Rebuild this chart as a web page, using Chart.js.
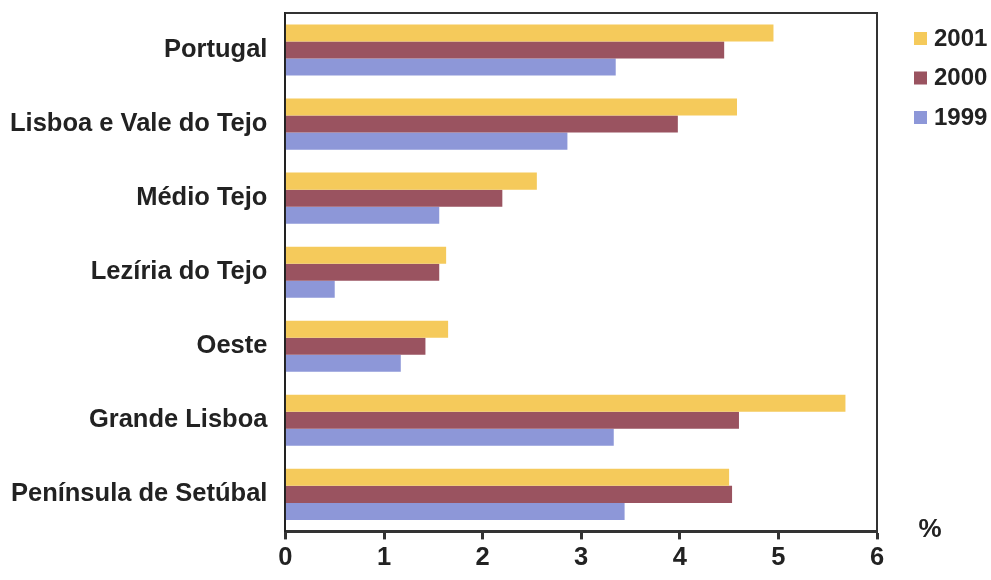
<!DOCTYPE html>
<html>
<head>
<meta charset="utf-8">
<script src="https://cdn.jsdelivr.net/npm/chart.js@4"></script>
<style>
  html, body { margin: 0; padding: 0; background: #fff; }
  #wrap { width: 991px; height: 580px; }
</style>
</head>
<body>
<div id="wrap"><canvas id="chart" width="991" height="580"></canvas></div>
<script>
// data (%)
const regions = ['Portugal', 'Lisboa e Vale do Tejo', 'Médio Tejo', 'Lezíria do Tejo', 'Oeste', 'Grande Lisboa', 'Península de Setúbal']
const v2001 = [4.95, 4.58, 2.55, 1.63, 1.65, 5.68, 4.5]
const v2000 = [4.45, 3.98, 2.2, 1.56, 1.42, 4.6, 4.53]
const v1999 = [3.35, 2.86, 1.56, 0.5, 1.17, 3.33, 3.44]
const years = ['2001', '2000', '1999']
const xTicks = [0, 1, 2, 3, 4, 5, 6]

const colors = ['#f5ca5b', '#9a5360', '#8d97d8']
const fontBold = { family: 'Liberation Sans, Arial, sans-serif', size: 25.5, weight: 'bold' }

// frame on top / right of the plot, plus legend and the "%" unit
const decorations = {
    id: 'decorations',
    afterDraw(chart) {
        const { ctx, chartArea: a } = chart
        ctx.save()
        ctx.strokeStyle = '#333'
        ctx.lineWidth = 2
        ctx.beginPath()
        ctx.moveTo(a.left, a.top)
        ctx.lineTo(a.right, a.top)
        ctx.lineTo(a.right, a.bottom)
        ctx.stroke()

        ctx.font = 'bold 24px Liberation Sans, Arial, sans-serif'
        ctx.textBaseline = 'middle'
        ctx.textAlign = 'left'
        chart.data.datasets.forEach((ds, i) => {
            const y = 38 + i * 39.5
            ctx.fillStyle = ds.backgroundColor
            ctx.fillRect(914, y - 6, 13, 13)
            ctx.fillStyle = '#222'
            ctx.fillText(ds.label, 934, y + 1)
        })

        ctx.font = 'bold 26px Liberation Sans, Arial, sans-serif'
        ctx.textAlign = 'center'
        ctx.fillText('%', 930, 530)
        ctx.restore()
    }
}

new Chart(document.getElementById('chart'), {
    type: 'bar',
    data: {
        labels: regions,
        datasets: [v2001, v2000, v1999].map((d, i) => ({
            label: years[i],
            data: d,
            backgroundColor: colors[i],
            categoryPercentage: 0.69,
            barPercentage: 1.0,
        })),
    },
    options: {
        responsive: false,
        animation: false,
        indexAxis: 'y',
        layout: { padding: { left: 0, top: 13, right: 114, bottom: 4 } },
        plugins: {
            legend: { display: false },
            tooltip: { enabled: false },
        },
        scales: {
            x: {
                min: 0,
                max: 6,
                afterBuildTicks: (scale) => { scale.ticks = xTicks.map((v) => ({ value: v })) },
                grid: { drawOnChartArea: false, tickLength: 8, tickWidth: 3, tickColor: '#333' },
                border: { color: '#333', width: 3 },
                ticks: { color: '#222', font: fontBold, padding: 3 },
            },
            y: {
                grid: { display: false },
                border: { color: '#222', width: 2 },
                ticks: { color: '#222', font: fontBold, padding: 10 },
                afterFit: (scale) => { scale.paddingTop = 0; scale.paddingBottom = 0 },
            },
        },
    },
    plugins: [decorations],
})
</script>
</body>
</html>
